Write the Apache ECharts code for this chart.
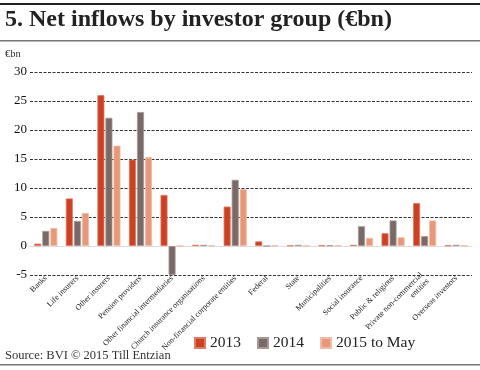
<!DOCTYPE html>
<html><head><meta charset="utf-8">
<script src="https://cdn.jsdelivr.net/npm/echarts@6/dist/echarts.min.js"></script>
<style>html,body{margin:0;padding:0;background:#fff}#c{width:480px;height:370px}</style>
</head><body><div id="c"></div>
<script>
const categories = ["Banks","Life insurers","Other insurers","Pension providers","Other financial intermediaries","Church insurance organisations","Non-financial corporate entities","Federal","State","Municipalities","Social insurance","Public & religious","Private non-commercial\nentities","Overseas investors"];
const s2013 = [0.4, 8.2, 26.0, 14.9, 8.8, 0.2, 6.8, 0.8, 0.1, 0.1, 0.2, 2.2, 7.4, 0.1];
const s2014 = [2.6, 4.3, 22.1, 23.1, -5.0, 0.2, 11.4, 0.0, 0.2, 0.1, 3.4, 4.4, 1.7, 0.2];
const s2015 = [3.1, 5.7, 17.3, 15.3, 0.0, 0.1, 9.8, 0.1, 0.0, 0.1, 1.4, 1.5, 4.4, 0.1];
const seriesNames = ["2013","2014","2015 to May"];
const yTicks = [-5, 0, 5, 10, 15, 20, 25, 30];

const serif = '"Liberation Serif", "DejaVu Serif", serif';
const colors = ['#cc4124', '#7a6a67', '#e8987a'];
const borders = ['#e07a60', '#a49794', '#f2bba6'];
const chart = echarts.init(document.getElementById('c'));
const mk = (name, data, i) => ({
  name, type: 'bar', data,
  barWidth: 7, barGap: '15%',
  itemStyle: { color: colors[i], borderColor: borders[i], borderWidth: 0.8 }
});
chart.setOption({
  animation: false,
  textStyle: { fontFamily: serif },
  graphic: [
    { type: 'rect', shape: { x: 0, y: 3, width: 480, height: 2 }, style: { fill: '#222' } },
    { type: 'text', left: 5, top: 8, style: { text: '5. Net inflows by investor group (€bn)', font: 'bold 24px ' + serif, fill: '#222' } },
    { type: 'rect', shape: { x: 0, y: 40, width: 480, height: 1.5 }, style: { fill: '#777' } },
    { type: 'text', left: 5, top: 49, style: { text: '€bn', font: '10.5px ' + serif, fill: '#333' } },
    { type: 'text', left: 5, top: 349, style: { text: 'Source: BVI © 2015 Till Entzian', font: '12.5px ' + serif, fill: '#333' } },
    { type: 'rect', shape: { x: 0, y: 364, width: 480, height: 1.5 }, style: { fill: '#777' } }
  ],
  legend: {
    data: seriesNames, left: 189, top: 330,
    icon: 'rect', itemWidth: 10, itemHeight: 10, itemGap: 16,
    textStyle: { fontFamily: serif, fontSize: 15.5, color: '#222' }
  },
  grid: { left: 30, right: 8, top: 72, bottom: 95 },
  xAxis: {
    type: 'category', data: categories,
    axisLine: { onZero: true, lineStyle: { color: '#ddd', width: 1 } },
    axisTick: { show: false },
    axisLabel: { interval: 0, rotate: 45, fontSize: 8, color: '#222', fontFamily: serif, margin: 2, lineHeight: 9 }
  },
  yAxis: {
    type: 'value', min: yTicks[0], max: yTicks[yTicks.length - 1], interval: 5,
    axisLine: { show: false }, axisTick: { show: false },
    axisLabel: { fontSize: 13, color: '#111', fontFamily: serif, margin: 3 },
    splitLine: { lineStyle: { color: '#333', type: [3, 1.5], width: 1 } }
  },
  series: [mk(seriesNames[0], s2013, 0), mk(seriesNames[1], s2014, 1), mk(seriesNames[2], s2015, 2)]
});
</script></body></html>
